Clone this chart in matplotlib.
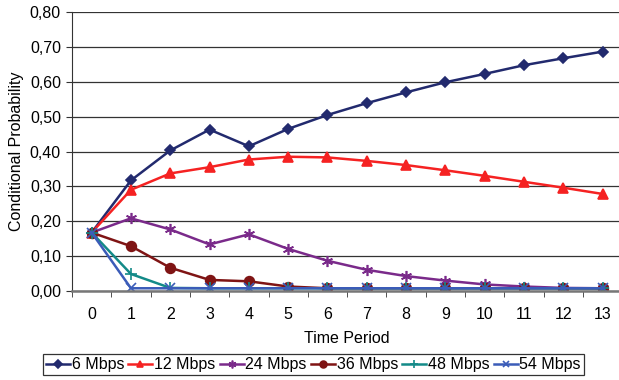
import numpy as np
import matplotlib.pyplot as plt

plt.rcParams['font.family'] = ['Liberation Sans', 'DejaVu Sans']

periods = list(range(14))
mbps_6 = [0.167, 0.317, 0.403, 0.463, 0.415, 0.465, 0.505, 0.539, 0.570, 0.599, 0.623, 0.648, 0.668, 0.687]
mbps_12 = [0.167, 0.290, 0.337, 0.355, 0.377, 0.385, 0.383, 0.373, 0.361, 0.346, 0.330, 0.313, 0.296, 0.278]
mbps_24 = [0.167, 0.208, 0.176, 0.133, 0.162, 0.120, 0.086, 0.060, 0.042, 0.029, 0.018, 0.012, 0.008, 0.007]
mbps_36 = [0.167, 0.128, 0.066, 0.031, 0.027, 0.012, 0.007, 0.007, 0.007, 0.007, 0.007, 0.007, 0.007, 0.007]
mbps_48 = [0.167, 0.048, 0.008, 0.007, 0.007, 0.007, 0.007, 0.007, 0.007, 0.007, 0.007, 0.007, 0.007, 0.007]
mbps_54 = [0.167, 0.007, 0.007, 0.007, 0.007, 0.007, 0.007, 0.007, 0.007, 0.007, 0.007, 0.007, 0.007, 0.007]

series = [
    ("6 Mbps", mbps_6, "#222a6e", "D", 5.5),
    ("12 Mbps", mbps_12, "#f52222", "^", 7),
    ("24 Mbps", mbps_24, "#7a2a8a", (6, 2, 0), 8),
    ("36 Mbps", mbps_36, "#7f1414", "o", 7),
    ("48 Mbps", mbps_48, "#138a88", "+", 8),
    ("54 Mbps", mbps_54, "#3b5cb8", "x", 7),
]

fs = 11.5
fig = plt.figure(figsize=(6.19, 3.80), dpi=100)
ax = fig.add_axes([0.1163, 0.235, 0.889, 0.7326])

for name, vals, col, mk, ms in series:
    ax.plot(periods, vals, color=col, marker=mk, markersize=ms, linewidth=1.8,
            markeredgewidth=1.2, label=name)

ax.set_xlim(-0.5, 13.5)
ax.set_ylim(0, 0.8)
ax.set_yticks(np.arange(0, 0.81, 0.1))
ax.set_yticklabels([f"{v:.2f}".replace(".", ",") for v in np.arange(0, 0.81, 0.1)])
ax.set_xticks(periods)
ax.set_xticks(np.arange(-0.5, 13.6, 1), minor=True)
ax.tick_params(axis='x', which='major', length=0, pad=12, labelsize=fs)
ax.tick_params(axis='x', which='minor', length=4, direction='out', color='#333333')
ax.tick_params(axis='y', length=4, direction='out', labelsize=fs, color='#333333', pad=4)

ax.grid(axis='y', color='#333333', linewidth=0.9)
ax.set_axisbelow(True)
for s in ['top', 'right']:
    ax.spines[s].set_visible(False)
ax.spines['left'].set_color('#333333')
ax.spines['bottom'].set_color('#777777')
ax.spines['bottom'].set_linewidth(1.8)

ax.set_xlabel("Time Period", fontsize=fs, labelpad=6)
ax.set_ylabel("Conditional Probability", fontsize=fs, labelpad=4)

leg = fig.legend(loc='center', bbox_to_anchor=(0.5065, 0.04), ncol=6, fontsize=fs,
                 frameon=True, fancybox=False, edgecolor='black', handlelength=1.5,
                 handletextpad=0.12, columnspacing=0.25, borderpad=0.2, borderaxespad=0,
                 markerscale=0.7)
leg.get_frame().set_linewidth(0.9)

fig.savefig("out.png", dpi=100)
